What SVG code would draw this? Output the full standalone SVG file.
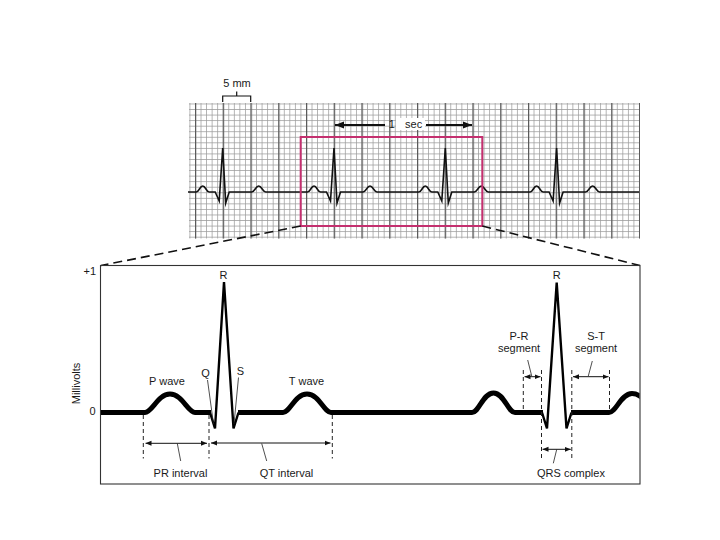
<svg xmlns="http://www.w3.org/2000/svg" width="720" height="540" viewBox="0 0 720 540">
  <style>
    text { font-family: "Liberation Sans", Arial, sans-serif; font-size: 11px; fill: #1a1a1a; }
    .mid { text-anchor: middle; }
    .end { text-anchor: end; }
    .ecg-top { fill: none; stroke: #111; stroke-width: 1.6; stroke-linejoin: miter; stroke-miterlimit: 12; }
    .ecg { fill: none; stroke: #000; stroke-width: 5; stroke-linejoin: round; stroke-linecap: butt; }
    .qrs { fill: none; stroke: #000; stroke-width: 2.4; stroke-linejoin: miter; stroke-miterlimit: 3; }
    .dash { fill: none; stroke: #222; stroke-width: 1; stroke-dasharray: 4 3; }
    .zoomline { fill: none; stroke: #111; stroke-width: 1.6; stroke-dasharray: 9 5; }
    .dbl { fill: none; stroke: #111; stroke-width: 1; marker-start: url(#ahs); marker-end: url(#ahe); }
    .ptr { fill: none; stroke: #222; stroke-width: 0.8; }
    .thin { fill: none; stroke: #111; stroke-width: 1.2; }
  </style>
  <defs>
    <pattern id="minor" patternUnits="userSpaceOnUse" x="195" y="103.5" width="5.55" height="5.55">
      <path d="M0.4 0 V5.55 M0 0.4 H5.55" stroke="#9a9a9a" stroke-width="0.8" fill="none"/>
    </pattern>
    <pattern id="major" patternUnits="userSpaceOnUse" x="195" y="0" width="27.75" height="540">
      <path d="M0.6 0 V540" stroke="#5a5a5a" stroke-width="1.3" fill="none"/>
    </pattern>
    <marker id="ahs" markerUnits="userSpaceOnUse" markerWidth="8" markerHeight="8" refX="0" refY="3" orient="auto">
      <path d="M0 3 L6 0.5 L6 5.5 Z" fill="#111"/>
    </marker>
    <marker id="ahe" markerUnits="userSpaceOnUse" markerWidth="8" markerHeight="8" refX="6" refY="3" orient="auto">
      <path d="M6 3 L0 0.5 L0 5.5 Z" fill="#111"/>
    </marker>
    <marker id="bigE" markerUnits="userSpaceOnUse" markerWidth="12" markerHeight="10" refX="9" refY="4" orient="auto">
      <path d="M9 4 L0 0.5 L0 7.5 Z" fill="#111"/>
    </marker>
    <marker id="bigS" markerUnits="userSpaceOnUse" markerWidth="12" markerHeight="10" refX="0" refY="4" orient="auto">
      <path d="M0 4 L9 0.5 L9 7.5 Z" fill="#111"/>
    </marker>
    <clipPath id="panelClip">
      <rect x="101" y="265.5" width="538.5" height="218"/>
    </clipPath>
  </defs>

  <rect width="720" height="540" fill="#fff"/>

  <!-- ECG paper grid -->
  <g id="grid">
    <rect x="189" y="103" width="450.5" height="135.5" fill="url(#minor)"/>
    <rect x="189" y="103" width="451" height="135.5" fill="url(#major)"/>
  </g>

  <!-- scale labels -->
  <g id="scale-5mm">
    <path class="thin" d="M222.7 102 V96 H250.7 V102 M236.7 96 V91.5"/>
    <text class="mid" x="237" y="87">5 mm</text>
  </g>
  <g id="scale-1sec">
    <rect x="396" y="118" width="29" height="12" fill="#fff"/>
    <line x1="335" y1="125" x2="385" y2="125" stroke="#111" stroke-width="2" marker-start="url(#bigS)"/>
    <line x1="426" y1="125" x2="472" y2="125" stroke="#111" stroke-width="2" marker-end="url(#bigE)"/>
    <text class="mid" x="405.5" y="127.5" word-spacing="7">1 sec</text>
  </g>

  <!-- strip ECG -->
  <g id="strip-ecg">
    <path class="ecg-top" d="M188 192 L196.2 192 C199.2 192 199.7 186 202.7 186 C205.7 186 206.2 192 209.2 192 L215.2 192 L219.2 201 L222.7 148 L225.7 203 L229.2 192 L251.7 192 C254.7 192 255.7 186 258.7 186 C261.7 186 262.7 192 265.7 192 L307.5 192 C310.5 192 311 186 314 186 C317 186 317.5 192 320.5 192 L326.5 192 L330.5 201 L334 148 L337 203 L340.5 192 L363 192 C366 192 367 186 370 186 C373 186 374 192 377 192 L418.8 192 C421.8 192 422.3 186 425.3 186 C428.3 186 428.8 192 431.8 192 L437.8 192 L441.8 201 L445.3 148 L448.3 203 L451.8 192 L474.3 192 C477.3 192 478.3 186 481.3 186 C484.3 186 485.3 192 488.3 192 L530.1 192 C533.1 192 533.6 186 536.6 186 C539.6 186 540.1 192 543.1 192 L549.1 192 L553.1 201 L556.6 148 L559.6 203 L563.1 192 L585.6 192 C588.6 192 589.6 186 592.6 186 C595.6 186 596.6 192 599.6 192 L639 192"/>
  </g>

  <!-- magnified region frame -->
  <g id="zoom-box">
    <rect x="300.7" y="137" width="181.6" height="89" fill="none" stroke="#c4306f" stroke-width="2"/>
  </g>

  <!-- connectors -->
  <g id="connectors">
    <line class="zoomline" x1="300.7" y1="226" x2="101" y2="265.5"/>
    <line class="zoomline" x1="482.3" y1="226" x2="640" y2="265.5"/>
  </g>

  <!-- magnified panel -->
  <g id="panel">
    <rect x="100.5" y="265.5" width="539.5" height="218.5" fill="none" stroke="#333" stroke-width="1.1"/>
    <text class="end" x="96" y="275" font-size="10">+1</text>
    <text class="end" x="95.5" y="415">0</text>
    <text class="mid" transform="translate(79.5 383.5) rotate(-90)">Millivolts</text>
  </g>

  <g id="panel-ecg" clip-path="url(#panelClip)">
    <path class="ecg" d="M100 412.5 H145 C152 412.5 158 394 170 394 C182 394 188 412.5 195 412.5 H211"/>
    <path class="qrs" d="M210 412.5 L215 428.5 L224 282 L233.5 428.5 L238.5 412.5"/>
    <path class="ecg" d="M238 412.5 H283 C290 412.5 295 394 307 394 C319 394 324 412.5 331 412.5 H472 C479 412.5 483 393 493.5 393 C504 393 508 412.5 515 412.5 H543"/>
    <path class="qrs" d="M542 412.5 L547 428.5 L556.7 282.5 L566.5 428.5 L571.5 412.5"/>
    <path class="ecg" stroke-width="6.5" d="M571 412.5 H609 C616 412.5 621 393.5 632 393.5 C640 393.5 644 400 650 406"/>
  </g>

  <!-- wave labels -->
  <g id="labels">
    <text class="mid" x="223.5" y="278.5">R</text>
    <text class="mid" x="556.7" y="278.5">R</text>
    <text class="mid" x="205.5" y="377">Q</text>
    <text class="mid" x="240.5" y="374.5">S</text>
    <text class="mid" x="167" y="384.5">P wave</text>
    <text class="mid" x="306.5" y="384.5">T wave</text>
    <text class="mid" x="180.5" y="476.5">PR interval</text>
    <text class="mid" x="286.5" y="476.5">QT interval</text>
    <text class="mid" x="519" y="340">P-R</text>
    <text class="mid" x="519" y="351.5">segment</text>
    <text class="mid" x="596" y="340">S-T</text>
    <text class="mid" x="596" y="351.5">segment</text>
    <text class="mid" x="571" y="476.5">QRS complex</text>
    <line class="ptr" x1="207.5" y1="380" x2="213.5" y2="424"/>
    <line class="ptr" x1="238.5" y1="377.5" x2="234" y2="424"/>
  </g>

  <!-- interval markers -->
  <g id="intervals">
    <line class="dash" x1="143.3" y1="415" x2="143.3" y2="458.5"/>
    <line class="dash" x1="209" y1="415" x2="209" y2="458.5"/>
    <line class="dash" x1="332.3" y1="415" x2="332.3" y2="458.5"/>
    <line class="dash" x1="523.3" y1="370" x2="523.3" y2="411"/>
    <line class="dash" x1="541.5" y1="370" x2="541.5" y2="458.5"/>
    <line class="dash" x1="571.8" y1="370" x2="571.8" y2="458.5"/>
    <line class="dash" x1="609.5" y1="370" x2="609.5" y2="411"/>

    <line class="dbl" x1="145.5" y1="443.3" x2="207" y2="443.3"/>
    <line class="dbl" x1="211" y1="443" x2="330.5" y2="443"/>
    <line class="dbl" x1="524.5" y1="376.7" x2="540.5" y2="376.7"/>
    <line class="dbl" x1="573" y1="376.7" x2="608.5" y2="376.7"/>
    <line class="dbl" x1="542.5" y1="449.3" x2="570.8" y2="449.3"/>

    <line class="ptr" x1="177.3" y1="443.5" x2="180.7" y2="461"/>
    <line class="ptr" x1="261.7" y1="443.5" x2="266.7" y2="461"/>
    <line class="ptr" x1="531.7" y1="376" x2="527.7" y2="360"/>
    <line class="ptr" x1="588.3" y1="376" x2="592.3" y2="361"/>
    <line class="ptr" x1="556.7" y1="449.5" x2="553.3" y2="463.3"/>
  </g>
</svg>
